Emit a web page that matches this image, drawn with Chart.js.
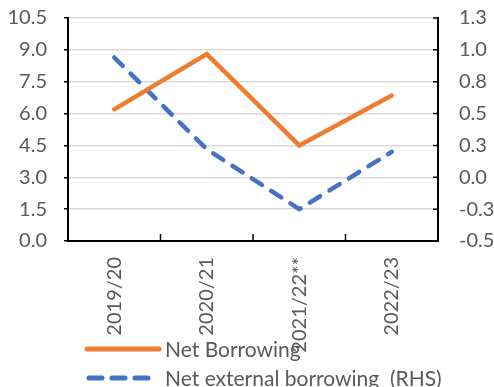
<!DOCTYPE html>
<html>
<head>
<meta charset="utf-8">
<script src="https://cdn.jsdelivr.net/npm/chart.js@4.4.1/dist/chart.umd.min.js"></script>
<style>
  html, body { margin: 0; padding: 0; background: #fff; }
  #wrap { position: relative; width: 494px; height: 387px; font-family: Lato, "Open Sans", sans-serif; overflow: hidden; }
  #box { position: absolute; left: 0; top: 0; width: 494px; height: 387px; }
  .leg-text { position: absolute; left: 165px; color: #595959; font-size: 21px; line-height: 21px; white-space: pre; }
  .leg-line { position: absolute; left: 82px; }
</style>
</head>
<body>
<div id="wrap">
  <div id="box"><canvas id="chart"></canvas></div>
  <svg class="leg-line" style="top:344px" width="84" height="10"><line x1="5" y1="5" x2="77" y2="5" stroke="#ED7D31" stroke-width="5" stroke-linecap="round"/></svg>
  <div class="leg-text" style="top:338px">Net Borrowing</div>
  <svg class="leg-line" style="top:373px" width="84" height="10"><line x1="7" y1="5" x2="70" y2="5" stroke="#4472C4" stroke-width="5" stroke-linecap="round" stroke-dasharray="13 10"/></svg>
  <div class="leg-text" style="top:367px">Net external borrowing  (RHS)</div>
</div>
<script>
var categories = ['2019/20', '2020/21', '2021/22**', '2022/23']
var netBorrowing = [6.2, 8.8, 4.5, 6.85]
var netExternal = [0.94, 0.22, -0.25, 0.2]

var textColor = '#595959'
var tickFont = { family: 'Lato', size: 20 }

// fixed axis sizes so the plot box sits where the original one does
function fixWidth(w) {
  return function (scale) {
    scale.width = w
    scale.paddingTop = 0
    scale.paddingBottom = 0
  }
}

// excel style tick marks pointing into the plot (x axis and right axis)
var innerTicks = {
  id: 'innerTicks',
  afterDraw: function (chart) {
    var c = chart.ctx
    var xs = chart.scales.x
    var ys = chart.scales.y1
    c.save()
    c.strokeStyle = '#000'
    c.lineWidth = 1.5
    c.beginPath()
    for (var i = 1; i < categories.length; i++) {
      var px = xs.getPixelForValue(i - 0.5)
      c.moveTo(px, xs.top)
      c.lineTo(px, xs.top - 7)
    }
    ys.ticks.forEach(function (t) {
      var py = ys.getPixelForValue(t.value)
      c.moveTo(ys.left, py)
      c.lineTo(ys.left - 5, py)
    })
    c.stroke()
    c.restore()
  }
}

var ctx = document.getElementById('chart').getContext('2d')
var chart = new Chart(ctx, {
  type: 'line',
  data: {
    labels: categories,
    datasets: [
      {
        label: 'Net Borrowing',
        data: netBorrowing,
        borderColor: '#ED7D31',
        backgroundColor: '#ED7D31',
        borderWidth: 4.5,
        borderCapStyle: 'round',
        pointRadius: 0,
        tension: 0,
        yAxisID: 'y'
      },
      {
        label: 'Net external borrowing  (RHS)',
        data: netExternal,
        borderColor: '#4472C4',
        backgroundColor: '#4472C4',
        borderWidth: 4.5,
        borderDash: [12, 11],
        borderCapStyle: 'round',
        borderJoinStyle: 'round',
        pointRadius: 0,
        tension: 0,
        yAxisID: 'y1'
      }
    ]
  },
  options: {
    responsive: true,
    maintainAspectRatio: false,
    animation: false,
    layout: { padding: { left: 0, right: 0, top: 18, bottom: 0 } },
    plugins: {
      legend: { display: false },
      tooltip: { enabled: false }
    },
    scales: {
      x: {
        offset: true,
        grid: { drawOnChartArea: false, drawTicks: false, offset: true },
        border: { color: '#000', width: 2 },
        ticks: { color: textColor, font: tickFont, minRotation: 90, maxRotation: 90, padding: 16 },
        afterFit: function (scale) {
          scale.height = 146
          scale.paddingLeft = 0
          scale.paddingRight = 0
        }
      },
      y: {
        position: 'left',
        min: 0,
        max: 10.5,
        grid: { color: '#d9d9d9', lineWidth: 1.5, tickColor: '#000', tickLength: 4 },
        border: { color: '#000', width: 2 },
        ticks: {
          stepSize: 1.5, color: textColor, font: tickFont, padding: 17,
          callback: function (v) { return Number(v).toFixed(1) }
        },
        afterFit: fixWidth(68)
      },
      y1: {
        position: 'right',
        min: -0.5,
        max: 1.25,
        grid: { drawOnChartArea: false, drawTicks: false },
        border: { color: '#000', width: 2 },
        ticks: {
          stepSize: 0.25, color: textColor, font: tickFont, padding: 21,
          callback: function (v) { return Number(v).toFixed(1) }
        },
        afterFit: fixWidth(56)
      }
    }
  },
  plugins: [innerTicks]
})
</script>
</body>
</html>
